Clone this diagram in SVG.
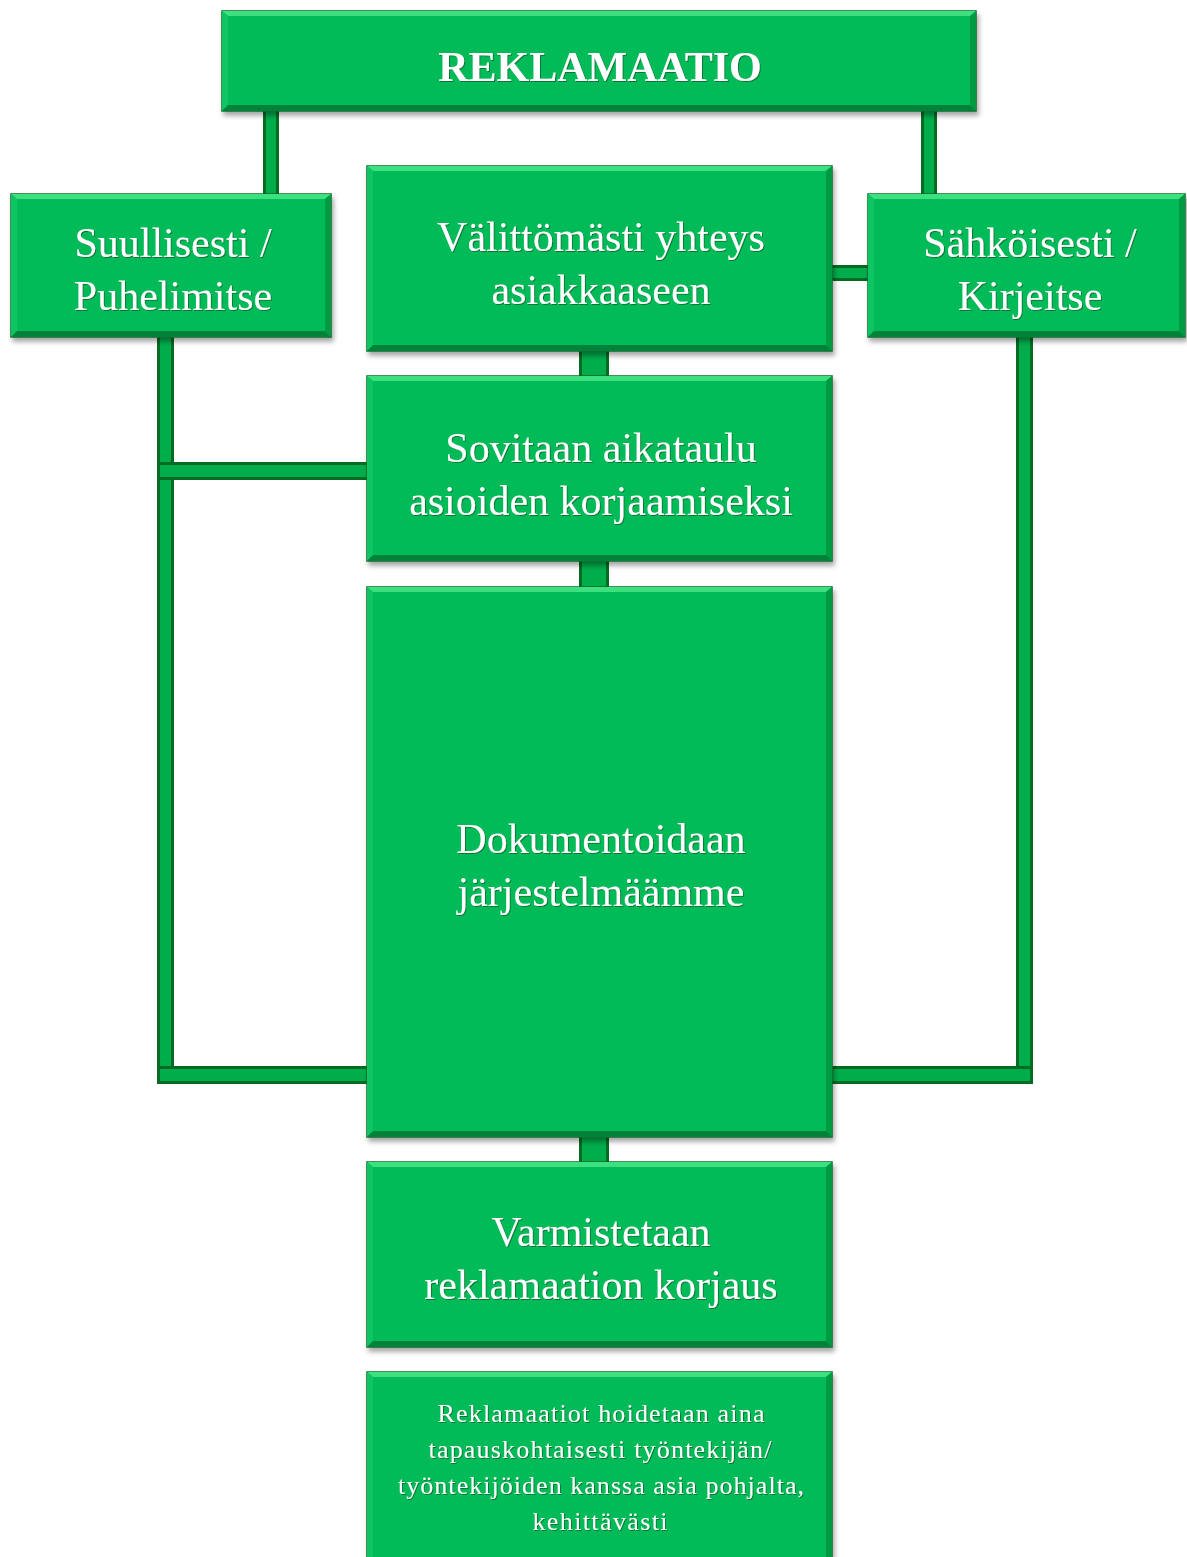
<svg xmlns="http://www.w3.org/2000/svg" width="1187" height="1557" viewBox="0 0 1187 1557">
<defs>
<filter id="sh" x="-5%" y="-5%" width="112%" height="115%">
<feDropShadow dx="2" dy="4" stdDeviation="2.5" flood-color="#000" flood-opacity="0.35"/>
</filter>
<filter id="tsh" x="-5%" y="-20%" width="110%" height="140%">
<feDropShadow dx="1" dy="1" stdDeviation="0.6" flood-color="#0a5a20" flood-opacity="0.7"/>
</filter>
</defs>
<style>
.box{fill:#05bb58;stroke:#0b6a27;stroke-width:1.5}
.bt{fill:#3ee07f}
.bl{fill:#0fc563}
.br{fill:#039a43}
.bb{fill:#03823a}
.con{fill:#00ad4b;stroke:#036b22;stroke-width:3}
.t{font-family:"Liberation Serif","Times New Roman",serif;fill:#ffffff;text-anchor:middle;font-size:42px;filter:url(#tsh)}
.tb{font-weight:bold;font-size:42px}
.ts{font-size:26px}
</style>
<rect width="1187" height="1557" fill="#ffffff"/>
<g id="connectors">
<rect class="con" x="264.5" y="106" width="13" height="92"/>
<rect class="con" x="922.5" y="106" width="13" height="92"/>
<rect class="con" x="158.5" y="332" width="14" height="749"/>
<rect class="con" x="158.5" y="463.5" width="213" height="15"/>
<rect class="con" x="158.5" y="1067.5" width="213" height="15"/>
<rect class="con" x="1017.5" y="332" width="14" height="749"/>
<rect class="con" x="828" y="1067.5" width="203.5" height="15"/>
<rect class="con" x="828" y="266.5" width="44" height="13"/>
<rect class="con" x="580.5" y="346" width="27" height="34"/>
<rect class="con" x="580.5" y="556" width="27" height="35"/>
<rect class="con" x="580.5" y="1132" width="27" height="34"/>
</g>
<g id="n-reklamaatio" filter="url(#sh)">
<rect class="box" x="222" y="11" width="754" height="100"/>
<polygon class="bt" points="222,11 976,11 970,16 228,16"/>
<polygon class="bl" points="222,11 228,16 228,105 222,111"/>
<polygon class="br" points="976,11 976,111 970,105 970,16"/>
<polygon class="bb" points="222,111 976,111 970,105 228,105"/>
<text class="t tb" x="600" y="81">REKLAMAATIO</text>
</g>
<g id="n-suullisesti" filter="url(#sh)">
<rect class="box" x="11" y="194" width="320" height="143"/>
<polygon class="bt" points="11,194 331,194 325,199 17,199"/>
<polygon class="bl" points="11,194 17,199 17,331 11,337"/>
<polygon class="br" points="331,194 331,337 325,331 325,199"/>
<polygon class="bb" points="11,337 331,337 325,331 17,331"/>
<text class="t" x="173" y="257">Suullisesti /</text>
<text class="t" x="173" y="310">Puhelimitse</text>
</g>
<g id="n-valittomasti" filter="url(#sh)">
<rect class="box" x="367" y="166" width="465" height="185"/>
<polygon class="bt" points="367,166 832,166 826,171 373,171"/>
<polygon class="bl" points="367,166 373,171 373,345 367,351"/>
<polygon class="br" points="832,166 832,351 826,345 826,171"/>
<polygon class="bb" points="367,351 832,351 826,345 373,345"/>
<text class="t" x="601" y="251">Välittömästi yhteys</text>
<text class="t" x="601" y="304">asiakkaaseen</text>
</g>
<g id="n-sahkoisesti" filter="url(#sh)">
<rect class="box" x="868" y="194" width="317" height="143"/>
<polygon class="bt" points="868,194 1185,194 1179,199 874,199"/>
<polygon class="bl" points="868,194 874,199 874,331 868,337"/>
<polygon class="br" points="1185,194 1185,337 1179,331 1179,199"/>
<polygon class="bb" points="868,337 1185,337 1179,331 874,331"/>
<text class="t" x="1030" y="257">Sähköisesti /</text>
<text class="t" x="1030" y="310">Kirjeitse</text>
</g>
<g id="n-sovitaan" filter="url(#sh)">
<rect class="box" x="367" y="376" width="465" height="185"/>
<polygon class="bt" points="367,376 832,376 826,381 373,381"/>
<polygon class="bl" points="367,376 373,381 373,555 367,561"/>
<polygon class="br" points="832,376 832,561 826,555 826,381"/>
<polygon class="bb" points="367,561 832,561 826,555 373,555"/>
<text class="t" x="601" y="462">Sovitaan aikataulu</text>
<text class="t" x="601" y="515">asioiden korjaamiseksi</text>
</g>
<g id="n-dokumentoidaan" filter="url(#sh)">
<rect class="box" x="367" y="587" width="465" height="550"/>
<polygon class="bt" points="367,587 832,587 826,592 373,592"/>
<polygon class="bl" points="367,587 373,592 373,1131 367,1137"/>
<polygon class="br" points="832,587 832,1137 826,1131 826,592"/>
<polygon class="bb" points="367,1137 832,1137 826,1131 373,1131"/>
<text class="t" x="601" y="853">Dokumentoidaan</text>
<text class="t" x="601" y="906">järjestelmäämme</text>
</g>
<g id="n-varmistetaan" filter="url(#sh)">
<rect class="box" x="367" y="1162" width="465" height="185"/>
<polygon class="bt" points="367,1162 832,1162 826,1167 373,1167"/>
<polygon class="bl" points="367,1162 373,1167 373,1341 367,1347"/>
<polygon class="br" points="832,1162 832,1347 826,1341 826,1167"/>
<polygon class="bb" points="367,1347 832,1347 826,1341 373,1341"/>
<text class="t" x="601" y="1246">Varmistetaan</text>
<text class="t" x="601" y="1299">reklamaation korjaus</text>
</g>
<g id="n-reklamaatiot" filter="url(#sh)">
<rect class="box" x="367" y="1372" width="465" height="192"/>
<polygon class="bt" points="367,1372 832,1372 826,1377 373,1377"/>
<polygon class="bl" points="367,1372 373,1377 373,1564 367,1564"/>
<polygon class="br" points="832,1372 832,1564 826,1564 826,1377"/>
<text class="t ts" x="601" y="1422" textLength="327" lengthAdjust="spacing">Reklamaatiot hoidetaan aina</text>
<text class="t ts" x="600" y="1458" textLength="343" lengthAdjust="spacing">tapauskohtaisesti työntekijän/</text>
<text class="t ts" x="601" y="1494" textLength="406" lengthAdjust="spacing">työntekijöiden kanssa asia pohjalta,</text>
<text class="t ts" x="600" y="1530" textLength="135" lengthAdjust="spacing">kehittävästi</text>
</g>
</svg>
